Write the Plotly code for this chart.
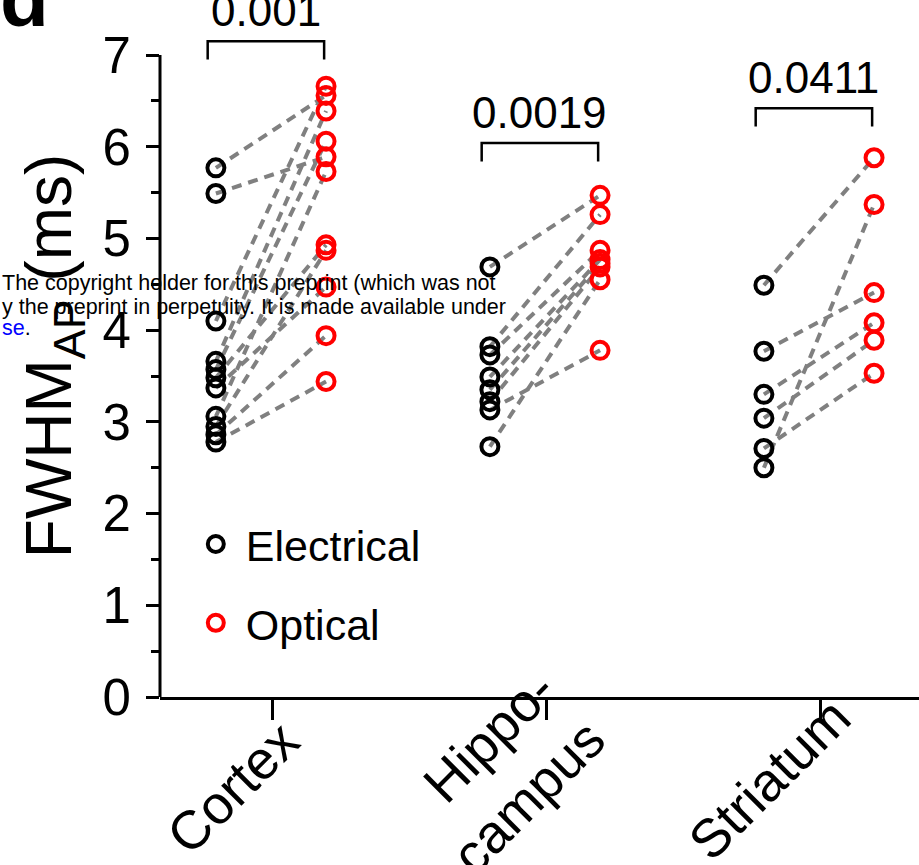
import plotly.graph_objects as go

# ---------------- data ----------------
categories = ["Cortex", "Hippo-<br>campus", "Striatum"]

cortex_elec = [5.77, 5.49, 4.10, 3.66, 3.57, 3.48, 3.37, 3.06, 2.95, 2.86, 2.78]
cortex_opt = [6.56, 5.89, 6.66, 6.39, 6.06, 4.93, 4.47, 5.73, 4.87, 3.94, 3.44]

hippo_elec = [4.69, 3.82, 3.73, 3.49, 3.35, 3.22, 3.13, 2.73]
hippo_opt = [5.47, 5.26, 4.87, 4.77, 4.73, 4.69, 3.78, 4.55]

striatum_elec = [4.49, 3.77, 3.30, 3.04, 2.71, 2.50]
striatum_opt = [5.88, 4.41, 4.08, 3.89, 3.53, 5.37]

p_labels = ["0.001", "0.0019", "0.0411"]
bracket_tops = [7.15, 6.04, 6.42]

y_ticks = [0, 1, 2, 3, 4, 5, 6, 7]
y_minor = [0.5, 1.5, 2.5, 3.5, 4.5, 5.5, 6.5]

elec_groups = [cortex_elec, hippo_elec, striatum_elec]
opt_groups = [cortex_opt, hippo_opt, striatum_opt]

# ---------------- geometry ----------------
FONT = "Liberation Sans, Arial, sans-serif"
OFF_E, OFF_O = -0.205, 0.197
cat_pos = [1, 2, 3]

ex, ey, ox, oy, lx, ly = [], [], [], [], [], []
for c, eg, og in zip(cat_pos, elec_groups, opt_groups):
    for e, o in zip(eg, og):
        ex.append(c + OFF_E); ey.append(e)
        ox.append(c + OFF_O); oy.append(o)
        lx += [c + OFF_E, c + OFF_O, None]
        ly += [e, o, None]

fig = go.Figure()
fig.add_trace(go.Scatter(x=lx, y=ly, mode="lines",
                         line=dict(color="rgb(128,128,128)", width=4, dash="10px,7px"),
                         showlegend=False, hoverinfo="skip"))
fig.add_trace(go.Scatter(x=ex, y=ey, mode="markers", name="Electrical",
                         legendgroup="e",
                         marker=dict(symbol="circle-open", size=17, color="black",
                                     line=dict(width=4, color="black")),
                         cliponaxis=False))
fig.add_trace(go.Scatter(x=ox, y=oy, mode="markers", name="Optical",
                         legendgroup="o",
                         marker=dict(symbol="circle-open", size=17, color="red",
                                     line=dict(width=4, color="red")),
                         cliponaxis=False))

shapes = []
annotations = []
for c, top, lab in zip(cat_pos, bracket_tops, p_labels):
    x0 = c - 0.235
    x1 = c + 0.19
    leg = 0.2
    shapes.append(dict(type="path", xref="x", yref="y",
                       path=f"M {x0},{top-leg} L {x0},{top} L {x1},{top} L {x1},{top-leg}",
                       line=dict(color="black", width=2.5)))
    annotations.append(dict(x=(x0 + x1) / 2, y=top, xref="x", yref="y",
                            text=lab, showarrow=False, yanchor="bottom", yshift=4,
                            font=dict(family=FONT, size=44, color="black")))

# rotated category labels (placed by their centres)
label_shift = [(-40, -0.130), (-43, -0.108), (-51, -0.118)]
for c, lab, (xs, yy) in zip(cat_pos, categories, label_shift):
    annotations.append(dict(x=c, y=yy, xref="x", yref="paper", xshift=xs,
                            text=lab, showarrow=False, textangle=-45, align="right",
                            xanchor="center", yanchor="middle",
                            font=dict(family=FONT, size=54, color="black")))

# y axis line (only 0..7)
shapes.append(dict(type="line", xref="paper", yref="y", x0=0, x1=0, y0=-0.09, y1=7,
                   line=dict(color="black", width=3)))

# y axis title
annotations.append(dict(x=-0.14, y=0.49, xref="paper", yref="paper",
                        text="FWHM<sub>AP</sub> (ms)", textangle=-90, showarrow=False,
                        xanchor="center", yanchor="middle",
                        font=dict(family=FONT, size=64, color="black")))

# panel letter
annotations.append(dict(x=-0.213, y=0.935, xref="paper", yref="paper", text="<b>d</b>",
                        showarrow=False, xanchor="left", yanchor="bottom",
                        font=dict(family=FONT, size=80, color="black")))

# overlaid preprint notice
notice = [
    ("The copyright holder for this preprint (which was not", 0.594),
    ("y the preprint in perpetuity. It is made available under", 0.5595),
    ("<span style='color:blue'>se</span>.", 0.529),
]
for t, yy in notice:
    annotations.append(dict(x=-0.2108, y=yy, xref="paper", yref="paper", text=t,
                            showarrow=False, xanchor="left", yanchor="middle",
                            font=dict(family=FONT, size=21.5, color="black")))

fig.update_layout(
    width=919, height=865,
    margin=dict(l=160, r=0, t=0, b=168, autoexpand=False),
    plot_bgcolor="white", paper_bgcolor="white",
    font=dict(family=FONT, color="black"),
    shapes=shapes, annotations=annotations,
    legend=dict(x=0.034, y=0.269, xanchor="left", yanchor="top",
                font=dict(family=FONT, size=43, color="black"),
                bgcolor="rgba(0,0,0,0)", itemsizing="trace", tracegroupgap=20,
                itemwidth=50),
    xaxis=dict(range=[0.591, 3.361], tickvals=cat_pos, showticklabels=False,
               ticks="outside", ticklen=20, tickwidth=2.5,
               tickcolor="black", showline=True, linecolor="black", linewidth=3,
               showgrid=False, zeroline=False, automargin=False),
    yaxis=dict(range=[0, 7.6], tickvals=y_ticks, ticks="outside", ticklen=13,
               tickwidth=2.5, tickcolor="black", showline=False, showgrid=False,
               zeroline=False, ticklabelstandoff=5, automargin=False,
               tickfont=dict(family=FONT, size=51, color="black"),
               minor=dict(tickvals=y_minor, ticks="outside", ticklen=8,
                          tickwidth=2.5, tickcolor="black", showgrid=False)),
)

fig.write_html("out.html")
